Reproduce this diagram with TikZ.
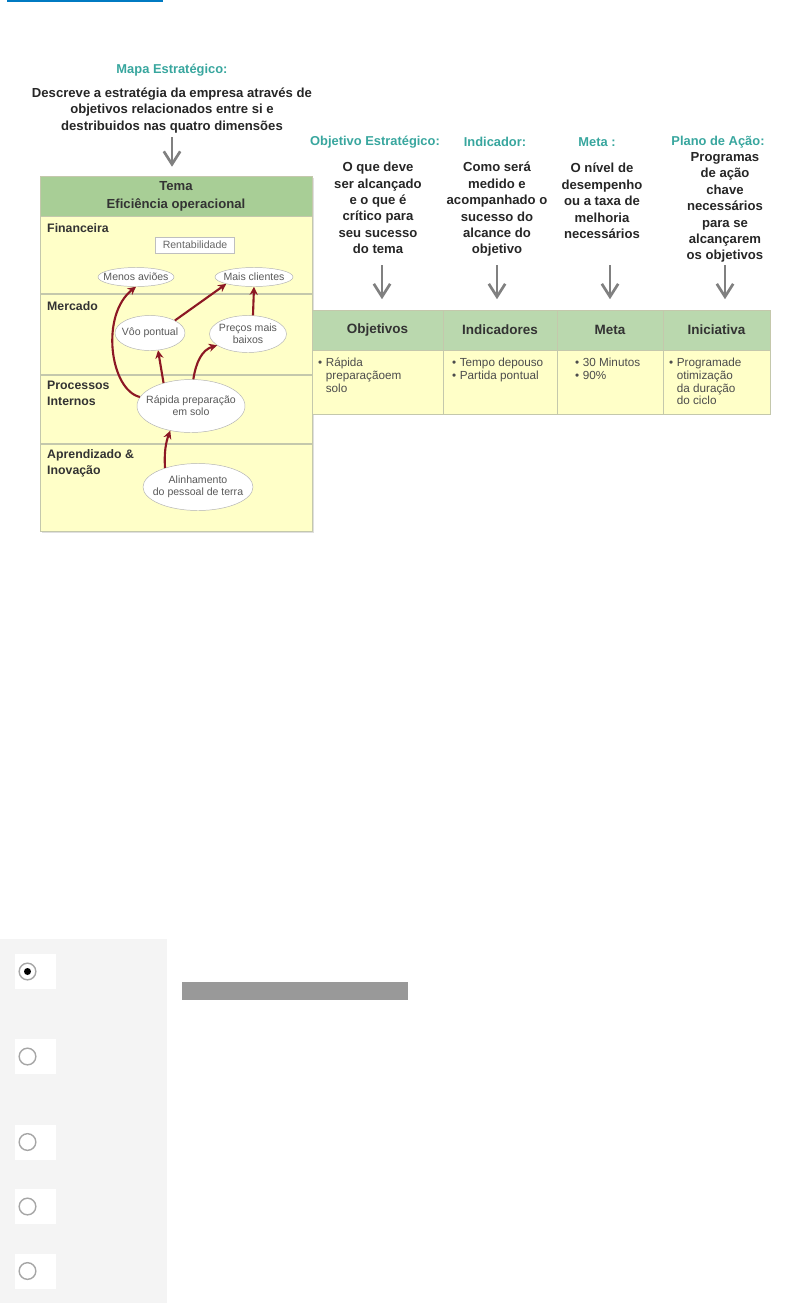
\documentclass[tikz,border=0pt]{standalone}
\usepackage{fontspec}
\setmainfont{Liberation Sans}
\usepackage{xcolor}
\usepackage{tikz}
\usetikzlibrary{shapes.geometric, arrows.meta}

\definecolor{verdeteal}{RGB}{56,166,158}
\definecolor{verdecab}{RGB}{168,206,150}
\definecolor{verdetab}{RGB}{186,216,174}
\definecolor{amarelo}{RGB}{255,255,200}
\definecolor{linha}{RGB}{196,200,172}
\definecolor{vermelho}{RGB}{140,24,36}
\definecolor{cinza}{RGB}{128,128,128}
\definecolor{azul}{RGB}{0,122,194}
\definecolor{painel}{RGB}{244,244,244}
\definecolor{barra}{RGB}{153,153,153}

\begin{document}
\begin{tikzpicture}[x=0.03cm, y=-0.03cm,
		titulo/.style={text=verdeteal, font=\bfseries\fontsize{11}{13}\selectfont},
		texto/.style={align=center, text=black!85, font=\bfseries\fontsize{11.2}{14}\selectfont},
		perspectiva/.style={anchor=west, align=left, inner sep=0pt, text=black!80, font=\bfseries\fontsize{10.5}{13.6}\selectfont},
		objetivo/.style={draw=gray!60, fill=white, ellipse, inner xsep=-8pt, inner ysep=0pt, align=center, text=black!65, font=\fontsize{9}{10}\selectfont},
		rentab/.style={draw=gray!50, fill=white, rectangle, inner sep=0pt, text=black!60, font=\fontsize{9}{10}\selectfont},
		cabec/.style={draw=linha, fill=verdetab, rectangle, inner sep=0pt, minimum height=1.2cm, text=black!80, font=\bfseries\fontsize{11.5}{13}\selectfont},
		celula/.style={anchor=north west, inner sep=0pt, text=black!70, font=\fontsize{10}{11}\selectfont},
		causa/.style={draw=vermelho, line width=1.8pt, ->, >={Stealth[length=7pt,width=7pt]}},
		seta/.style={draw=cinza, line width=2.3pt, ->, >={Straight Barb[length=11pt,width=14pt]}},
		radio/.style={circle, draw=gray!70, line width=1.2pt, minimum size=0.5cm, inner sep=0pt}
		]
		\useasboundingbox (0,0) rectangle (799,1303);
		
		% link at the top
		\fill[azul] (7,0) rectangle (163,1.5);
		
		% left part: strategic map
		\node [titulo](t0) at (172,70) {Mapa Estratégico:};
		\node [texto](d0) at (172,110.5) {Descreve a estratégia da empresa através de\\objetivos relacionados entre si e\\destribuidos nas quatro dimensões};
		
		\fill[gray!25] (42,178) rectangle (314,533);
		\filldraw[fill=amarelo, draw=linha] (40,216) rectangle (312,531);
		\node [cabec, fill=verdecab, minimum width=8.16cm, font=\bfseries\fontsize{11.2}{15.4}\selectfont, align=center](tema) at (176,196) {Tema\\Eficiência operacional};
		\draw[linha, line width=1pt] (40,294) -- (312,294);
		\draw[linha, line width=1pt] (40,375) -- (312,375);
		\draw[linha, line width=1pt] (40,444) -- (312,444);
		
		\draw[seta, shorten >=7.7pt] (d0.south) -- (d0.south |- tema.north);
		
		\node [perspectiva](p1) at (47,228) {Financeira};
		\node [perspectiva](p2) at (47,306) {Mercado};
		\node [perspectiva](p3) at (47,393) {Processos\\Internos};
		\node [perspectiva](p4) at (47,463.5) {Aprendizado \&\\Inovação};
		
		\node [rentab, minimum width=2.37cm, minimum height=0.48cm](rent) at (195,245) {Rentabilidade};
		\node [objetivo, minimum width=2.28cm, minimum height=0.57cm](menos) at (136,277) {Menos aviões};
		\node [objetivo, minimum width=2.34cm, minimum height=0.57cm](mais) at (254,277) {Mais clientes};
		\node [objetivo, minimum width=2.1cm, minimum height=1.05cm](voo) at (150,333) {Vôo pontual};
		\node [objetivo, minimum width=2.31cm, minimum height=1.11cm](precos) at (248,334) {Preços mais\\baixos};
		\node [objetivo, minimum width=3.24cm, minimum height=1.59cm](rapida) at (191,406) {Rápida preparação\\em solo};
		\node [objetivo, minimum width=3.3cm, minimum height=1.41cm](alinh) at (198,487) {Alinhamento\\do pessoal de terra};
		
		\draw[causa] (rapida.170) .. controls (110,390) and (100,315) .. (menos.south);
		\draw[causa] (voo.north east) -- (mais.south west);
		\draw[causa] (precos.75) -- (mais.south);
		\draw[causa] (rapida.140) -- (voo.-65);
		\draw[causa] (rapida.85) .. controls (196,362) and (202,350) .. (precos.200);
		\draw[causa] (alinh.150) .. controls (164,452) and (166,442) .. (rapida.-130);
		
		% right part: the four columns
		\node [titulo](t1) at (375,142) {Objetivo Estratégico:};
		\node [titulo](t2) at (495,142) {Indicador:};
		\node [titulo](t3) at (597,142) {Meta :};
		\node [titulo](t4) at (718,142) {Plano de Ação:};
		
		\node [texto](d1) at (378,208) {O que deve\\ser alcançado\\e o que é\\crítico para\\seu sucesso\\do tema};
		\node [texto](d2) at (497,209.5) {Como será\\medido e\\acompanhado o\\sucesso do\\alcance do\\objetivo};
		\node [texto](d3) at (602,201) {O nível de\\desempenho\\ou a taxa de\\melhoria\\necessários};
		\node [texto](d4) at (725,207.5) {Programas\\de ação\\chave\\necessários\\para se\\alcançarem\\os objetivos};
		
		\filldraw[fill=amarelo, draw=linha] (312,350) rectangle (443,414);
		\filldraw[fill=amarelo, draw=linha] (443,350) rectangle (557,414);
		\filldraw[fill=amarelo, draw=linha] (557,350) rectangle (663,414);
		\filldraw[fill=amarelo, draw=linha] (663,350) rectangle (770,414);
		
		\node [cabec, minimum width=3.93cm](h1) at (377.5,330) {Objetivos};
		\node [cabec, minimum width=3.42cm](h2) at (500,330) {Indicadores};
		\node [cabec, minimum width=3.18cm](h3) at (610,330) {Meta};
		\node [cabec, minimum width=3.21cm](h4) at (716.5,330) {Iniciativa};
		
		\coordinate (a1) at (382,265);
		\coordinate (a2) at (497,265);
		\coordinate (a3) at (610,265);
		\coordinate (a4) at (725,265);
		\draw[seta, shorten >=9pt] (a1) -- (a1 |- h1.north);
		\draw[seta, shorten >=9pt] (a2) -- (a2 |- h2.north);
		\draw[seta, shorten >=9pt] (a3) -- (a3 |- h3.north);
		\draw[seta, shorten >=9pt] (a4) -- (a4 |- h4.north);
		
		\node [celula](b1) at (318,357) {\begin{tabular}{@{}l@{\hspace{3pt}}l@{}}\textbullet & Rápida\\ & preparaçãoem\\ & solo\end{tabular}};
		\node [celula](b2) at (452,357) {\begin{tabular}{@{}l@{\hspace{3pt}}l@{}}\textbullet & Tempo depouso\\ \textbullet & Partida pontual\end{tabular}};
		\node [celula](b3) at (575,357) {\begin{tabular}{@{}l@{\hspace{3pt}}l@{}}\textbullet & 30 Minutos\\ \textbullet & 90\%\end{tabular}};
		\node [celula](b4) at (669,357) {\begin{tabular}{@{}l@{\hspace{3pt}}l@{}}\textbullet & Programade\\ & otimização\\ & da duração\\ & do ciclo\end{tabular}};
		
		% answer options below
		\fill[painel] (0,939) rectangle (167,1303);
		\foreach \y [count=\i] in {971.5,1056.5,1142,1206.5,1271} {
			\node [fill=white, minimum width=1.23cm, minimum height=1.05cm, inner sep=0pt](r\i) at (35.5,\y) {};
			\node [radio](c\i) at (27.5,\y) {};
		}
		\fill[black] (c1.center) circle (3.5);
		\fill[barra] (182,982) rectangle (408,1000);
		
	\end{tikzpicture}
\end{document}
